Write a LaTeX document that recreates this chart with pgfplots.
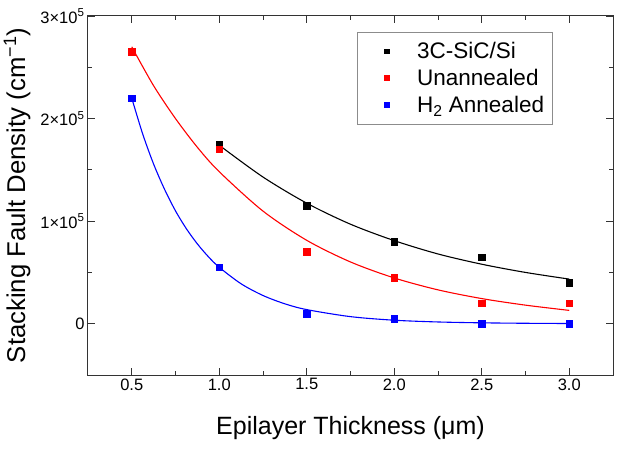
\documentclass[border=0pt]{standalone}
\usepackage{fontspec}
\setmainfont{Liberation Sans}
\usepackage{pgfplots}
\pgfplotsset{compat=1.18}
\begin{document}
\begin{tikzpicture}
\path[use as bounding box] (0,0) rectangle (624pt,458pt);
\begin{axis}[
  at={(88pt,83pt)}, anchor=south west,
  scale only axis, width=525pt, height=359pt,
  xmin=0.25, xmax=3.25, ymin=-50000, ymax=300000,
  scaled y ticks=false,
  xtick={0.5,1.0,1.5,2.0,2.5,3.0},
  xticklabels={0.5,1.0,1.5,2.0,2.5,3.0},
  ytick={0,100000,200000,300000},
  yticklabels={0,{1×10\textsuperscript{5}},{2×10\textsuperscript{5}},{3×10\textsuperscript{5}}},
  minor x tick num=1, minor y tick num=1,
  tick align=inside,
  major tick length=7pt, minor tick length=4pt,
  axis line style={line width=1pt, black!80},
  every tick/.style={line width=0.9pt, black!80},
  tick label style={font=\fontsize{16.5}{18}\selectfont},
  xlabel={Epilayer Thickness (μm)},
  ylabel={Stacking Fault Density (cm\textsuperscript{−1})},
  xlabel style={font=\fontsize{25}{28}\selectfont, at={(axis description cs:0.5,-0.148)}, anchor=center},
  ylabel style={font=\fontsize{25.7}{28}\selectfont, at={(axis description cs:-0.135,0.5)}, anchor=center},
  legend style={at={(0.512,0.955)}, anchor=north west, draw=black!45, line width=0.8pt,
    font=\fontsize{22.5}{25}\selectfont, row sep=5pt, inner xsep=6pt, inner ysep=8pt},
  legend cell align=left,
  legend image code/.code={\path[draw=none] (0pt,0pt) -- (52pt,0pt);\draw[mark size=2.4pt] plot coordinates {(24pt,0pt)};},
]
% fit curves
\addplot[black, line width=1.1pt, smooth, forget plot] coordinates {
(1.0,174000)(1.25,143000)(1.5,117500)(1.75,97000)(2.0,81000)(2.25,68000)(2.5,58000)(2.75,50000)(3.0,43500)};
\addplot[red, line width=1.1pt, smooth, forget plot] coordinates {
(0.5,270000)(0.625,232000)(0.75,200000)(0.875,172000)(1.0,148200)(1.25,109800)(1.5,81300)(1.75,60200)(2.0,44600)(2.25,33000)(2.5,24500)(2.75,18100)(3.0,13000)};
\addplot[blue, line width=1.1pt, smooth, forget plot] coordinates {
(0.5,220000)(0.5625,185000)(0.625,155600)(0.6875,131000)(0.75,110000)(0.8125,92500)(0.875,77800)(0.9375,65400)(1.0,55000)(1.125,38900)(1.25,27500)(1.375,19400)(1.5,13750)(1.75,6900)(2.0,3400)(2.25,1700)(2.5,860)(2.75,430)(3.0,200)};
% data
\addplot[only marks, mark=square*, mark size=3.3pt, black] coordinates {
(1.0,175000)(1.5,115000)(2.0,80000)(2.5,65000)(3.0,40000)};
\addlegendentry{3C-SiC/Si}
\addplot[only marks, mark=square*, mark size=3.3pt, red] coordinates {
(0.5,265000)(1.0,170000)(1.5,70000)(2.0,45000)(2.5,20000)(3.0,20000)};
\addlegendentry{Unannealed}
\addplot[only marks, mark=square*, mark size=3.3pt, blue] coordinates {
(0.5,220000)(1.0,55000)(1.5,10000)(2.0,5000)(2.5,0)(3.0,0)};
\addlegendentry{H\textsubscript{2} Annealed}
\end{axis}
\end{tikzpicture}
\end{document}
